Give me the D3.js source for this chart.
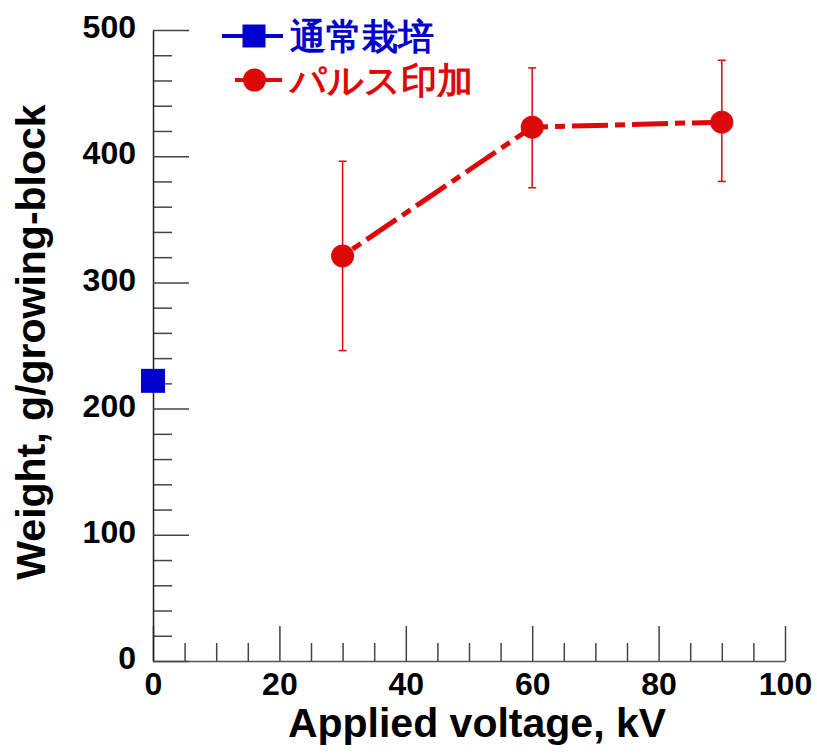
<!DOCTYPE html>
<html>
<head>
<meta charset="utf-8">
<script src="https://cdn.jsdelivr.net/npm/d3@7"></script>
<style>
  body { margin: 0; background: #fff; }
  text { font-family: "Liberation Sans", Arial, sans-serif; font-weight: bold; }
</style>
</head>
<body>
<svg width="817" height="755"></svg>
<script>
const svg = d3.select('svg');

// data
const normalVoltage = [0];
const normalWeight = [222];

const pulseVoltage = [30, 60, 90];
const pulseWeight = [321, 423, 427];
const pulseErrLow = [246, 375, 380];
const pulseErrHigh = [396, 470, 476];

const xTicks = [0, 20, 40, 60, 80, 100];
const yTicks = [0, 100, 200, 300, 400, 500];

const legendNames = ['通常栽培', 'パルス印加'];

const blue = '#0000cc';
const red = '#dd0808';

const x = d3.scaleLinear().domain([0, 100]).range([153, 785]);
const y = d3.scaleLinear().domain([0, 500]).range([661, 30]);

// minor ticks first
svg.append('g')
  .attr('transform', `translate(0, ${y(0)})`)
  .call(d3.axisBottom(x).tickValues(d3.range(0, 101, 5).filter(d => d % 20)).tickSize(-18).tickFormat(''))
  .call(g => g.select('.domain').remove());

svg.append('g')
  .attr('transform', `translate(${x(0)}, 0)`)
  .call(d3.axisLeft(y).tickValues(d3.range(0, 501, 20).filter(d => d % 100)).tickSize(-19).tickFormat(''))
  .call(g => g.select('.domain').remove());

const xAxis = svg.append('g')
  .attr('transform', `translate(0, ${y(0)})`)
  .call(d3.axisBottom(x).tickValues(xTicks).tickSizeInner(-35).tickSizeOuter(0).tickPadding(11));

xAxis.selectAll('text')
  .attr('font-size', 32)
  .attr('font-family', '"Liberation Sans", Arial, sans-serif')
  .attr('fill', '#000');

const yAxis = svg.append('g')
  .attr('transform', `translate(${x(0)}, 0)`)
  .call(d3.axisLeft(y).tickValues(yTicks).tickSizeInner(-36).tickSizeOuter(0).tickPadding(17));

yAxis.selectAll('text')
  .attr('font-size', 32)
  .attr('dy', '0.24em')
  .attr('font-family', '"Liberation Sans", Arial, sans-serif')
  .attr('fill', '#000');

svg.selectAll('.tick line').attr('stroke', '#444').attr('stroke-width', 1.5);
svg.selectAll('.domain').attr('stroke', '#222').attr('stroke-width', 1.5);
xAxis.select('.domain').attr('stroke', '#555');

// axis titles
svg.append('text')
  .attr('x', 477)
  .attr('y', 737)
  .attr('text-anchor', 'middle')
  .attr('font-size', 41)
  .text('Applied voltage, kV');

svg.append('text')
  .attr('transform', 'translate(45, 342) rotate(-90)')
  .attr('text-anchor', 'middle')
  .attr('font-size', 41)
  .text('Weight, g/growing-block');

// pulse series
const pulse = pulseVoltage.map((v, i) => ({
  v, w: pulseWeight[i], lo: pulseErrLow[i], hi: pulseErrHigh[i]
}));

const errs = svg.append('g').attr('stroke', red).attr('stroke-width', 1.5);
errs.selectAll('line.bar')
  .data(pulse)
  .enter().append('line')
    .attr('class', 'bar')
    .attr('x1', d => x(d.v)).attr('x2', d => x(d.v))
    .attr('y1', d => y(d.lo)).attr('y2', d => y(d.hi));
errs.selectAll('line.capHi')
  .data(pulse)
  .enter().append('line')
    .attr('class', 'capHi')
    .attr('x1', d => x(d.v) - 4).attr('x2', d => x(d.v) + 4)
    .attr('y1', d => y(d.hi)).attr('y2', d => y(d.hi));
errs.selectAll('line.capLo')
  .data(pulse)
  .enter().append('line')
    .attr('class', 'capLo')
    .attr('x1', d => x(d.v) - 4).attr('x2', d => x(d.v) + 4)
    .attr('y1', d => y(d.lo)).attr('y2', d => y(d.lo));

const line = d3.line().x(d => x(d.v)).y(d => y(d.w));

svg.append('path')
  .datum(pulse)
  .attr('d', line)
  .attr('fill', 'none')
  .attr('stroke', red)
  .attr('stroke-width', 5)
  .attr('stroke-dasharray', '36,7,10,7')
  .attr('stroke-dashoffset', 31);

svg.selectAll('circle.pulse')
  .data(pulse)
  .enter().append('circle')
    .attr('class', 'pulse')
    .attr('cx', d => x(d.v))
    .attr('cy', d => y(d.w))
    .attr('r', 11.5)
    .attr('fill', red);

// normal series
svg.selectAll('rect.normal')
  .data(normalVoltage.map((v, i) => ({v, w: normalWeight[i]})))
  .enter().append('rect')
    .attr('class', 'normal')
    .attr('x', d => x(d.v) - 12)
    .attr('y', d => y(d.w) - 12)
    .attr('width', 24)
    .attr('height', 24)
    .attr('fill', blue);

// legend
const legend = svg.append('g');
const legendRows = [
  {name: legendNames[0], color: blue, y: 36, x1: 222, x2: 283},
  {name: legendNames[1], color: red, y: 80, x1: 235, x2: 282}
];

legend.selectAll('line')
  .data(legendRows)
  .enter().append('line')
    .attr('x1', d => d.x1).attr('x2', d => d.x2)
    .attr('y1', d => d.y).attr('y2', d => d.y)
    .attr('stroke', d => d.color)
    .attr('stroke-width', 4);

legend.append('rect')
  .attr('x', 254 - 11.5).attr('y', legendRows[0].y - 11.5)
  .attr('width', 23).attr('height', 23)
  .attr('fill', blue);

legend.append('circle')
  .attr('cx', 254.5).attr('cy', legendRows[1].y)
  .attr('r', 11.5)
  .attr('fill', red);

legend.selectAll('text')
  .data(legendRows)
  .enter().append('text')
    .attr('x', 290)
    .attr('y', d => d.y + 13)
    .attr('font-size', 36)
    .attr('font-weight', 900)
    .attr('font-family', '"Noto Sans CJK JP", sans-serif')
    .style('font-weight', 900)
    .attr('fill', d => d.color)
    .text(d => d.name);
</script>
</body>
</html>
